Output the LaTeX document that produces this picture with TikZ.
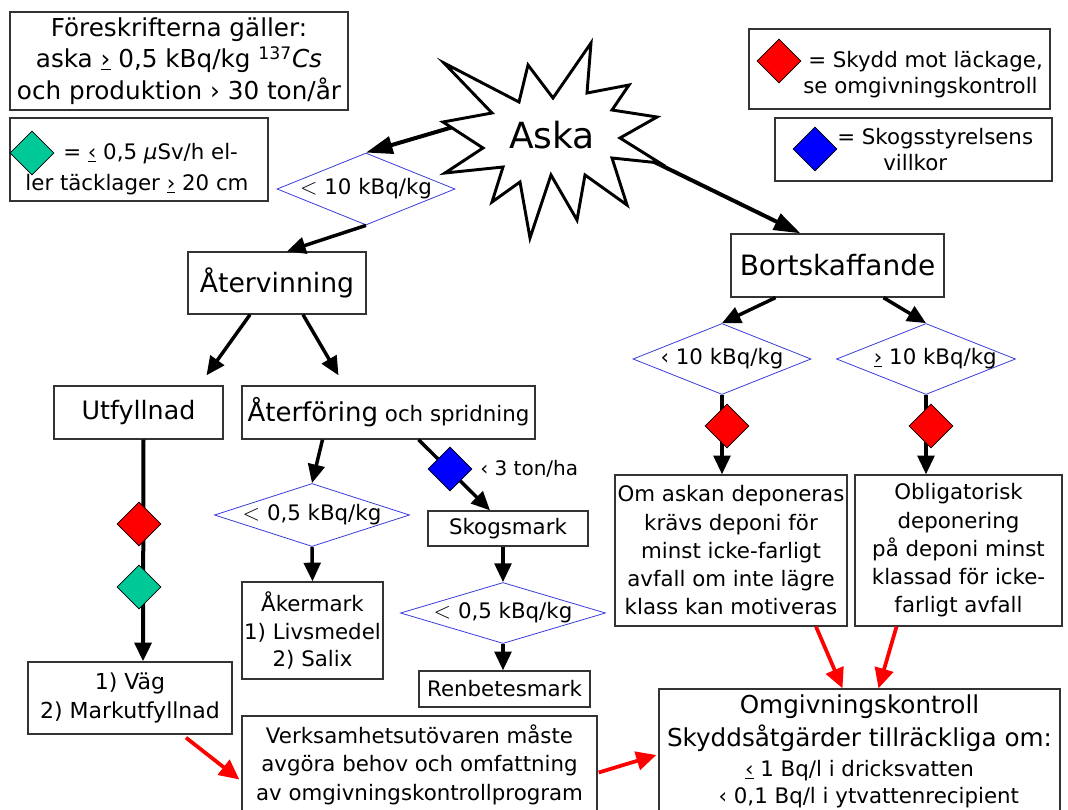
\documentclass[tikz,border=0pt]{standalone}
\usepackage{fontspec}
\setmainfont{DejaVu Sans}
\usetikzlibrary{arrows.meta,shapes.geometric,calc}
\definecolor{symgreen}{RGB}{0,200,150}
\definecolor{condblue}{RGB}{60,60,220}
\begin{document}
\begin{tikzpicture}[x=0.75pt,y=-0.75pt,
  box/.style={draw=black!80, line width=1pt, fill=white, inner sep=0pt, align=center, font=\fontsize{16}{21}\selectfont},
  txt/.style={inner sep=0pt, font=\fontsize{16}{21}\selectfont},
  cond/.style={diamond, draw=condblue, line width=0.6pt, inner sep=0pt, fill=white},
  sym/.style={diamond, draw=black, line width=0.6pt, inner sep=0pt, minimum width=44*0.75pt, minimum height=44*0.75pt},
  redsym/.style={sym, fill=red},
  greensym/.style={sym, fill=symgreen},
  bluesym/.style={sym, fill=blue},
  arr/.style={line width=2.6pt, -{Triangle[length=14pt,width=12.5pt]}},
  bigarr/.style={line width=3pt, -{Triangle[length=20pt,width=13pt]}},
  redarr/.style={line width=2.8pt, draw=red, -{Triangle[length=15pt,width=14pt]}, color=red}]
\useasboundingbox (0,0) rectangle (1068,810);
\fill[white] (0,0) rectangle (1068,810);

% legends
\node[box, minimum width=338*0.75pt, minimum height=98*0.75pt, font=\fontsize{18.5}{23.6}\selectfont] (fores) at (179,61) {Föreskrifterna gäller:\\aska \underline{›} 0,5 kBq/kg \textsuperscript{137}\textit{Cs}\\och produktion › 30 ton/år};

\node[box, minimum width=258*0.75pt, minimum height=83*0.75pt] (gleg) at (139,159.5) {};
\node[greensym] (gsym) at (32,153) {};
\node[txt, anchor=base west] (gt1) at (63,159) {= \underline{‹} 0,5 \textit{μ}Sv/h el-};
\node[txt, anchor=base] (gt2) at (137,190) {ler täcklager \underline{›} 20 cm};

\node[box, minimum width=301*0.75pt, minimum height=80*0.75pt] (rleg) at (899.5,69) {};
\node[redsym] (rsym) at (779,61) {};
\node[txt, anchor=base west] (rt1) at (808,67) {= Skydd mot läckage,};
\node[txt, anchor=base west] (rt2) at (803,93) {se omgivningskontroll};

\node[box, minimum width=277*0.75pt, minimum height=63*0.75pt] (bleg) at (913.5,149.5) {};
\node[bluesym] (bsym) at (815,149) {};
\node[txt, anchor=base west] (bt1) at (837,144) {= Skogsstyrelsens};
\node[txt, anchor=base west] (bt2) at (883,170) {villkor};

% main boxes
\node[box, minimum width=178*0.75pt, minimum height=62*0.75pt, font=\fontsize{20}{24}\selectfont] (aterv) at (277,283) {Återvinning};
\node[box, minimum width=213*0.75pt, minimum height=63*0.75pt, font=\fontsize{21}{25}\selectfont] (bort) at (837.5,265.5) {Bortskaffande};
\node[box, minimum width=169*0.75pt, minimum height=53*0.75pt, font=\fontsize{19}{23}\selectfont] (utf) at (138.5,412.5) {Utfyllnad};
\node[box, minimum width=293*0.75pt, minimum height=53*0.75pt] (aterf) at (388.5,412.5) {{\fontsize{19.5}{23}\selectfont Återföring} och spridning};
\node[box, minimum width=160*0.75pt, minimum height=35*0.75pt] (skog) at (508,528.5) {Skogsmark};
\node[box, minimum width=141*0.75pt, minimum height=97*0.75pt, font=\fontsize{16}{20.6}\selectfont] (aker) at (312.5,630.5) {Åkermark\\1) Livsmedel\\2) Salix};
\node[box, minimum width=171*0.75pt, minimum height=36*0.75pt] (ren) at (504.5,689) {Renbetesmark};
\node[box, minimum width=204*0.75pt, minimum height=72*0.75pt, font=\fontsize{16.5}{22}\selectfont] (vag) at (130,698) {1) Väg\\2) Markutfyllnad};
\node[box, minimum width=232*0.75pt, minimum height=151*0.75pt, font=\fontsize{16}{21.2}\selectfont] (omask) at (731,550.5) {Om askan deponeras\\krävs deponi för\\minst icke-farligt\\avfall om inte lägre\\klass kan motiveras};
\node[box, minimum width=207*0.75pt, minimum height=151*0.75pt, font=\fontsize{16}{21.2}\selectfont] (oblig) at (958.5,550.5) {Obligatorisk\\deponering\\på deponi minst\\klassad för icke-\\farligt avfall};
\node[box, minimum width=355*0.75pt, minimum height=97*0.75pt, font=\fontsize{16}{21.4}\selectfont] (verk) at (419.5,764.5) {Verksamhetsutövaren måste\\avgöra behov och omfattning\\av omgivningskontrollprogram};
\node[box, minimum width=401*0.75pt, minimum height=124*0.75pt, font=\fontsize{16}{21}\selectfont] (omgiv) at (859.5,751) {{\fontsize{18.5}{24}\selectfont Omgivningskontroll}\\[4pt]{\fontsize{18.5}{24}\selectfont Skyddsåtgärder tillräckliga om:}\\[1.5pt]\underline{‹} 1 Bq/l i dricksvatten\\[-1pt]\hspace*{14pt}‹ 0,1 Bq/l i ytvattenrecipient};

% condition diamonds
\node[cond, minimum width=178*0.75pt, minimum height=72*0.75pt, label={[txt]center:{$<$ 10 kBq/kg}}] (d1) at (366,189) {};
\node[cond, minimum width=195*0.75pt, minimum height=63*0.75pt, label={[txt]center:{$<$ 0,5 kBq/kg}}] (d2) at (312,515) {};
\node[cond, minimum width=205*0.75pt, minimum height=61*0.75pt, label={[txt]center:{$<$ 0,5 kBq/kg}}] (d3) at (503,613) {};
\node[cond, minimum width=178*0.75pt, minimum height=71*0.75pt, label={[txt]center:{‹ 10 kBq/kg}}] (d4) at (722,359) {};
\node[cond, minimum width=179*0.75pt, minimum height=71*0.75pt, label={[txt,xshift=7pt]center:{\underline{›} 10 kBq/kg}}] (d5) at (926,359) {};

% connectors
\coordinate (askaL) at (470,122);
\coordinate (askaR) at (640,155);
\draw[bigarr] (askaL) -- (d1.north);
\draw[bigarr] (askaR) -- ($(bort.north)+(-37,0)$);
\draw[arr] (d1.south) -- ($(aterv.north)+(10,0)$);
\draw[arr] ($(aterv.south)+(-27,0)$) -- ($(utf.north)+(68,-10)$);
\draw[arr] ($(aterv.south)+(26,0)$) -- ($(aterf.north)+(-50,-10)$);
\draw[arr] ($(aterf.south)+(-66,0)$) -- (d2.north);
\draw[arr] (d2.south) -- (aker.north);
\draw[arr] ($(aterf.south)+(30,0)$) -- ($(skog.north)+(-18,0)$);
\draw[arr] ($(skog.south)+(-5,0)$) -- (d3.north);
\draw[arr] (d3.south) -- (d3.south |- ren.north);
\draw[arr, line width=3pt] ($(utf.south)+(5,0)$) -- ($(vag.north)+(13,0)$);
\draw[arr] ($(bort.south)+(-62,0)$) -- (d4.north);
\draw[arr] ($(bort.south)+(46,0)$) -- (d5.north);
\draw[arr] (d4.south) -- (d4.south |- omask.north);
\draw[arr] (d5.south) -- (d5.south |- oblig.north);
\draw[redarr] ($(omask.south)+(85,0)$) -- ($(omgiv.north)+(-17,0)$);
\draw[redarr] ($(oblig.south)+(-62,0)$) -- ($(omgiv.north)+(19,0)$);
\draw[redarr] ($(vag.south)+(56,3)$) -- ($(verk.west)+(-2,15)$);
\draw[redarr] ($(verk.east)+(1,8)$) -- ($(omgiv.west)+(-2,4)$);

% star
\draw[line width=2.2pt, fill=white, line join=miter]
 (444,63) -- (519,102) -- (528,65) -- (553,98) -- (591,43) -- (587,93) -- (629,85) -- (612,110)
 -- (657,117) -- (620,138) -- (660,163) -- (612,158) -- (627,205) -- (585,175) -- (577,220)
 -- (551,175) -- (530,238) -- (520,182) -- (492,202) -- (503,167) -- (445,173) -- (483,148)
 -- (443,122) -- (492,113) -- cycle;
\node[inner sep=0pt, font=\fontsize{27}{30}\selectfont] (aska) at (552,135) {Aska};

% symbol diamonds on connectors
\node[redsym] (r1) at (139,524) {};
\node[greensym] (g1) at (139,587) {};
\node[bluesym] (b1) at (450,469) {};
\node[redsym] (r2) at (727,426) {};
\node[redsym] (r3) at (931,426) {};
\node[txt, anchor=base west, font=\fontsize{15}{18}\selectfont] (tonha) at (480,475) {‹ 3 ton/ha};
\end{tikzpicture}
\end{document}
